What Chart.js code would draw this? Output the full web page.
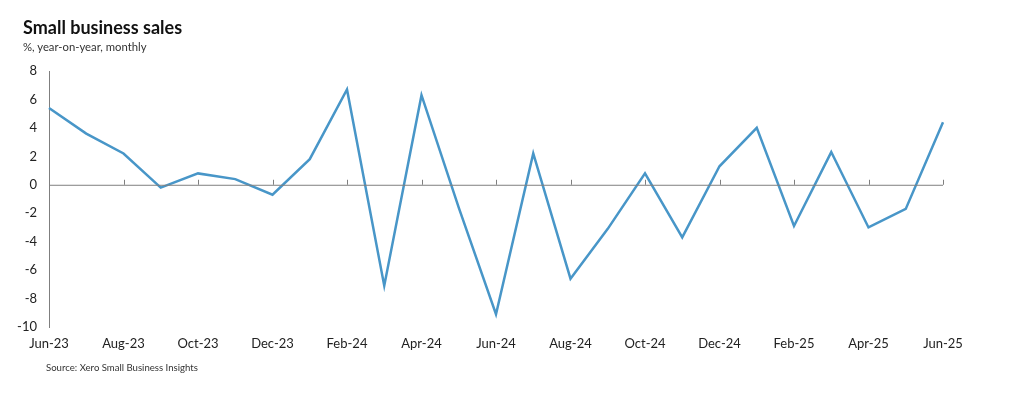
<!DOCTYPE html>
<html>
<head>
<meta charset="utf-8">
<script src="https://cdn.jsdelivr.net/npm/chart.js@4/dist/chart.umd.min.js"></script>
<style>
  body { margin: 0; background: #fff; font-family: Lato, "Open Sans", sans-serif; }
  #wrap { position: relative; width: 1024px; height: 397px; }
  #title { position: absolute; left: 23px; top: 16px; font-size: 18px; font-weight: bold; color: #111; }
  #subtitle { position: absolute; left: 23px; top: 40px; font-size: 11.3px; color: #333; }
  #source { position: absolute; left: 46px; top: 362px; font-size: 9.6px; color: #333; }
  canvas { position: absolute; left: 0; top: 0; }
</style>
</head>
<body>
<div id="wrap">
  <canvas id="lineCanvas" width="1024" height="397"></canvas>
  <div id="title">Small business sales</div>
  <div id="subtitle">%, year-on-year, monthly</div>
  <div id="source">Source: Xero Small Business Insights</div>
</div>
<script>
const months = ["Jun-23", "Jul-23", "Aug-23", "Sep-23", "Oct-23", "Nov-23", "Dec-23",
    "Jan-24", "Feb-24", "Mar-24", "Apr-24", "May-24", "Jun-24", "Jul-24", "Aug-24",
    "Sep-24", "Oct-24", "Nov-24", "Dec-24", "Jan-25", "Feb-25", "Mar-25", "Apr-25",
    "May-25", "Jun-25"];

const salesGrowth = [5.4, 3.6, 2.2, -0.2, 0.8, 0.4, -0.7, 1.8, 6.7, -7.1, 6.3, -1.6,
    -9.1, 2.2, -6.6, -3.1, 0.8, -3.7, 1.3, 4.0, -2.9, 2.3, -3.0, -1.7, 4.4];

const yTicks = [8, 6, 4, 2, 0, -2, -4, -6, -8, -10];

// axe horizontal à zéro avec petites graduations
const zeroAxis = {
    id: "zeroAxis",
    afterDatasetsDraw(chart) {
        const ctx = chart.ctx;
        const x = chart.scales.x;
        const y0 = chart.scales.y.getPixelForValue(0);
        ctx.save();
        ctx.strokeStyle = "#7f7f7f";
        ctx.lineWidth = 1;
        ctx.beginPath();
        ctx.moveTo(chart.chartArea.left, y0 + 0.5);
        ctx.lineTo(chart.chartArea.right, y0 + 0.5);
        for (let i = 2; i < months.length; i += 2) {
            const px = Math.round(x.getPixelForValue(i)) + 0.5;
            ctx.moveTo(px, y0);
            ctx.lineTo(px, y0 - 5);
        }
        ctx.stroke();
        ctx.restore();
    }
};

const lineChart = new Chart(document.getElementById("lineCanvas"), {
    type: "line",
    data: {
        labels: months,
        datasets: [{
            data: salesGrowth,
            borderColor: "#4896c8",
            borderWidth: 2.5,
            pointRadius: 0,
            tension: 0,
            fill: false
        }]
    },
    options: {
        responsive: false,
        animation: false,
        layout: { padding: { left: 0, right: 81, top: 71, bottom: 0 } },
        scales: {
            x: {
                offset: false,
                grid: { display: false },
                border: { display: false },
                ticks: {
                    autoSkip: false,
                    maxRotation: 0,
                    padding: 1,
                    color: "#222",
                    font: { family: "Lato", size: 13 },
                    callback: function(value, index) {
                        return index % 2 === 0 ? months[index] : "";
                    }
                },
                afterFit: function(scale) { scale.height = 70; }
            },
            y: {
                min: -10,
                max: 8,
                afterBuildTicks: function(scale) {
                    scale.ticks = yTicks.map(v => ({ value: v }));
                },
                grid: { display: false },
                border: { display: true, color: "#7f7f7f", width: 1 },
                ticks: {
                    padding: 4,
                    color: "#222",
                    font: { family: "Lato", size: 13 }
                },
                afterFit: function(scale) { scale.width = 49; }
            }
        },
        plugins: { legend: { display: false }, tooltip: { enabled: false } }
    },
    plugins: [zeroAxis]
});
</script>
</body>
</html>
